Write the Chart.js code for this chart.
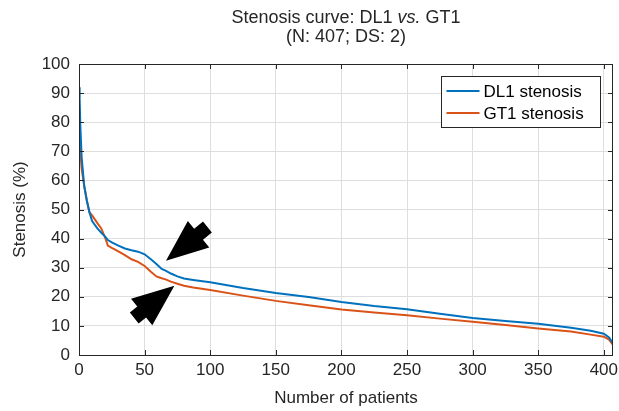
<!DOCTYPE html>
<html>
<head>
<meta charset="utf-8">
<script src="https://cdn.jsdelivr.net/npm/chart.js@4/dist/chart.umd.min.js"></script>
<style>
  html, body { margin: 0; padding: 0; background: #fff; }
</style>
</head>
<body>
<canvas id="stenosisChart" width="619" height="411"></canvas>
<script>
// values (patients sorted by stenosis)
const patients = [0, 0.5, 1, 2, 4, 6, 8, 10, 14, 17, 20, 22, 25, 30, 35, 40, 45, 50, 55, 59, 63, 66, 70, 75, 80, 87, 100, 125, 150, 175, 200, 225, 250, 275, 300, 325, 350, 375, 390, 400, 404, 407];
const dl1Stenosis = [92, 88, 79, 68, 58, 53, 49, 46, 43.5, 42, 40.7, 39.5, 38.7, 37.6, 36.6, 36, 35.5, 34.6, 32.8, 31.3, 29.6, 29, 28, 27, 26.3, 25.8, 25, 23, 21.3, 19.9, 18.2, 16.8, 15.7, 14.2, 12.7, 11.7, 10.7, 9.4, 8.3, 7.3, 6, 4];
const gt1Stenosis = [80, 76, 70, 64, 58, 53, 49, 48, 45.3, 43.5, 40.2, 37.6, 36.8, 35.6, 34.3, 32.9, 32, 30.6, 28.5, 27, 26.4, 26, 25.2, 24.5, 23.8, 23.2, 22.3, 20.4, 18.6, 17.1, 15.6, 14.6, 13.7, 12.5, 11.4, 10.3, 9.1, 8.1, 7, 6.3, 5.3, 3.5];
const seriesLabels = ["DL1 stenosis", "GT1 stenosis"];
const xMax = 407;

// the two black arrows (tip -> tail, in data units)
const arrows = [
  { tip: [66.3, 32.4], tail: [97.9, 44] },
  { tip: [72.7, 23.8], tail: [42.1, 12.7] }
];

const FONT = '"Liberation Sans", Arial, Helvetica, sans-serif';
const blue = "#0072BD";
const orange = "#D95319";
const axisColor = "#262626";

function toPoints(xs, ys) {
  return xs.map((x, i) => ({ x: x, y: ys[i] }));
}

const matlabLook = {
  id: "matlabLook",
  afterDraw(chart) {
    const { ctx, chartArea: a, scales } = chart;
    const x = scales.x, y = scales.y;
    ctx.save();

    // arrows
    ctx.fillStyle = "#000";
    arrows.forEach(ar => {
      const tx = x.getPixelForValue(ar.tip[0]), ty = y.getPixelForValue(ar.tip[1]);
      const bx = x.getPixelForValue(ar.tail[0]), by = y.getPixelForValue(ar.tail[1]);
      const len = Math.hypot(bx - tx, by - ty);
      const ux = (bx - tx) / len, uy = (by - ty) / len;
      const nx = -uy, ny = ux;
      const headLen = 42, headHalf = 17, shaftHalf = 7;
      const hx = tx + ux * headLen, hy = ty + uy * headLen;
      ctx.beginPath();
      ctx.moveTo(tx, ty);
      ctx.lineTo(hx + nx * headHalf, hy + ny * headHalf);
      ctx.lineTo(hx + nx * shaftHalf, hy + ny * shaftHalf);
      ctx.lineTo(bx + nx * shaftHalf, by + ny * shaftHalf);
      ctx.lineTo(bx - nx * shaftHalf, by - ny * shaftHalf);
      ctx.lineTo(hx - nx * shaftHalf, hy - ny * shaftHalf);
      ctx.lineTo(hx - nx * headHalf, hy - ny * headHalf);
      ctx.closePath();
      ctx.fill();
    });

    // axes box + inward ticks
    ctx.strokeStyle = axisColor;
    ctx.lineWidth = 1;
    ctx.strokeRect(a.left + 0.5, a.top + 0.5, a.right - a.left - 1, a.bottom - a.top);
    ctx.beginPath();
    x.ticks.forEach(t => {
      const px = Math.round(x.getPixelForValue(t.value)) + 0.5;
      ctx.moveTo(px, a.bottom); ctx.lineTo(px, a.bottom - 5);
      ctx.moveTo(px, a.top); ctx.lineTo(px, a.top + 5);
    });
    y.ticks.forEach(t => {
      const py = Math.round(y.getPixelForValue(t.value)) + 0.5;
      ctx.moveTo(a.left, py); ctx.lineTo(a.left + 5, py);
      ctx.moveTo(a.right, py); ctx.lineTo(a.right - 5, py);
    });
    ctx.stroke();

    // legend
    const lx = 441.5, ly = 76.5, lw = 159, lh = 51;
    ctx.fillStyle = "#fff";
    ctx.fillRect(lx, ly, lw, lh);
    ctx.strokeStyle = axisColor;
    ctx.strokeRect(lx, ly, lw, lh);
    ctx.font = "17px " + FONT;
    ctx.textBaseline = "middle";
    ctx.textAlign = "left";
    chart.data.datasets.forEach((ds, i) => {
      const yy = ly + 14.5 + i * 22;
      ctx.strokeStyle = ds.borderColor;
      ctx.lineWidth = 2;
      ctx.beginPath();
      ctx.moveTo(lx + 5, yy); ctx.lineTo(lx + 38, yy);
      ctx.stroke();
      ctx.fillStyle = "#000";
      ctx.fillText(ds.label, lx + 42, yy + 1);
    });

    // title (with italic "vs.")
    const cx = (a.left + a.right) / 2;
    const p1 = "Stenosis curve: DL1 ", p2 = "vs.", p3 = " GT1";
    const normal = "18px " + FONT, italic = "italic 18px " + FONT;
    ctx.font = normal; const w1 = ctx.measureText(p1).width, w3 = ctx.measureText(p3).width;
    ctx.font = italic; const w2 = ctx.measureText(p2).width;
    let sx = cx - (w1 + w2 + w3) / 2;
    ctx.fillStyle = "#262626";
    ctx.textBaseline = "alphabetic";
    ctx.font = normal; ctx.fillText(p1, sx, 22.5);
    ctx.font = italic; ctx.fillText(p2, sx + w1, 22.5);
    ctx.font = normal; ctx.fillText(p3, sx + w1 + w2, 22.5);
    ctx.textAlign = "center";
    ctx.fillText("(N: 407; DS: 2)", cx, 41.5);

    ctx.restore();
  }
};

new Chart(document.getElementById("stenosisChart"), {
  type: "line",
  data: {
    datasets: [
      { label: seriesLabels[0], data: toPoints(patients, dl1Stenosis), borderColor: blue, borderWidth: 2 },
      { label: seriesLabels[1], data: toPoints(patients, gt1Stenosis), borderColor: orange, borderWidth: 2 }
    ]
  },
  options: {
    responsive: false,
    animation: false,
    events: [],
    parsing: false,
    elements: { point: { radius: 0 }, line: { tension: 0, fill: false } },
    layout: { padding: { top: 64, right: 6, left: 0, bottom: 0 } },
    plugins: { legend: { display: false }, title: { display: false }, tooltip: { enabled: false } },
    scales: {
      x: {
        type: "linear",
        min: 0,
        max: xMax,
        border: { display: false },
        grid: { color: "#dedede", drawTicks: false },
        ticks: { stepSize: 50, includeBounds: false, padding: 5, color: "#262626", font: { family: FONT, size: 17 }, maxRotation: 0 },
        title: { display: true, text: "Number of patients", color: "#262626", font: { family: FONT, size: 17 }, padding: { top: 0, bottom: 2 } },
        afterFit(s) { s.height = 56; s.paddingLeft = 0; s.paddingRight = 0; }
      },
      y: {
        min: 0,
        max: 100,
        border: { display: false },
        grid: { color: "#dedede", drawTicks: false },
        ticks: { stepSize: 10, padding: 9, color: "#262626", font: { family: FONT, size: 17 } },
        title: { display: true, text: "Stenosis (%)", color: "#262626", font: { family: FONT, size: 17 }, padding: { top: 10, bottom: 0 } },
        afterFit(s) { s.width = 79; s.paddingTop = 0; s.paddingBottom = 0; }
      }
    }
  },
  plugins: [matlabLook]
});
</script>
</body>
</html>
